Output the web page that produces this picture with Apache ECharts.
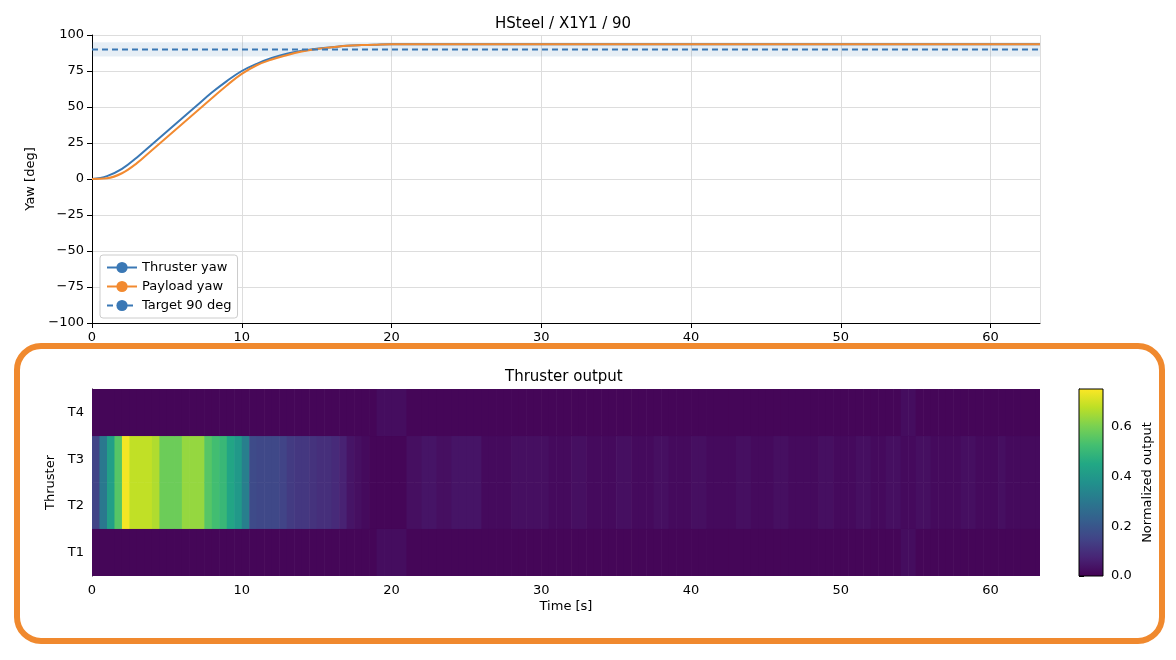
<!DOCTYPE html>
<html><head><meta charset="utf-8">
<script src="https://cdn.jsdelivr.net/npm/echarts@6/dist/echarts.min.js"></script>
<style>html,body{margin:0;background:#fff}#c{width:1176px;height:660px}</style>
</head><body><div id="c"></div>
<script>
const timeT = [0,1,2,3,4,5,6,7,8,9,10,11,12,13,14,15,16,17,18,19,20,25,30,40,50,63.3];
const thrusterYaw = [0,2,7,15,24,33,42,51,60,68,75,80,84,87,89,90.5,91.5,92.5,93,93.3,93.5,93.5,93.5,93.5,93.5,93.5];
const payloadYaw = [0,0.5,4,11,20,29,38,47,56,65,73,79,83,86,88.5,90.3,91.5,92.5,93,93.3,93.5,93.5,93.5,93.5,93.5,93.5];
const targetDeg = 90;
const thrusters = ['T1','T2','T3','T4'];
const binWidth = 0.5;
// T2 / T3 output per 0.5 s bin
const midOut = [
0.15,0.3,0.42,0.55,0.74,0.68,0.68,0.68,0.66,0.58,0.58,0.58,0.63,0.63,0.63,0.55,0.52,0.5,0.44,0.4,
0.32,0.17,0.16,0.16,0.16,0.15,0.13,0.12,0.12,0.11,0.1,0.1,0.09,0.07,0.04,0.03,0.02,0.01,0.01,0.01,
0.01,0.01,0.03,0.03,0.04,0.04,0.03,0.03,0.04,0.04,0.04,0.04,0.02,0.02,0.02,0.02,0.03,0.03,0.03,0.03,
0.03,0.02,0.02,0.02,0.03,0.03,0.02,0.02,0.02,0.02,0.03,0.03,0.02,0.02,0.02,0.03,0.03,0.02,0.02,0.02,
0.03,0.03,0.02,0.02,0.02,0.02,0.03,0.03,0.02,0.02,0.02,0.03,0.03,0.02,0.02,0.02,0.02,0.03,0.03,0.02,
0.02,0.02,0.03,0.03,0.02,0.02,0.03,0.03,0.02,0.02,0.03,0.03,0.02,0.02,0.02,0.02,0.03,0.03,0.02,0.02,
0.02,0.03,0.02,0.02,0.02,0.02,0.02];
// T1 / T4 output per 0.5 s bin (near zero except small blips)
const outerOut = midOut.map((_, i) => (i >= 38 && i < 42) || (i >= 108 && i < 110) ? 0.025 : 0.01);
const vmax = 0.75;
const xMax = 63.3;

const viridis = ['#440154','#482475','#414487','#355f8d','#2a788e','#21918c','#22a884','#44bf70','#7ad151','#bddf26','#fde725'];
const heat = [];
midOut.forEach((v,i)=>{ heat.push([i*binWidth,1,v]); heat.push([i*binWidth,2,v]); });
outerOut.forEach((v,i)=>{ heat.push([i*binWidth,0,v]); heat.push([i*binWidth,3,v]); });

const font = 'DejaVu Sans';
const ax = {color:'#000',fontFamily:font,fontSize:13};
const chart = echarts.init(document.getElementById('c'));
chart.setOption({
  animation:false,
  textStyle:{fontFamily:font},
  title:[
    {text:'HSteel / X1Y1 / 90',top:12,textStyle:{fontSize:15,fontWeight:'normal',color:'#000'},left:490},
    {text:'Thruster output',left:500,top:365,textStyle:{fontSize:15,fontWeight:'normal',color:'#000'}}
  ],
  graphic:[{type:'rect',shape:{x:17,y:346,width:1145,height:295,r:24},style:{fill:'none',stroke:'#f0892e',lineWidth:6},z:100}],
  legend:{orient:'vertical',left:100,top:255,itemWidth:30,itemGap:6,padding:[6,6,6,6],
    backgroundColor:'#fff',borderColor:'#ccc',borderWidth:1,borderRadius:3,
    textStyle:{fontSize:13,color:'#000'},data:['Thruster yaw','Payload yaw','Target 90 deg']},
  grid:[
    {left:92,right:136,top:35,height:288},
    {left:92,right:136,top:389,height:187},
    {left:1079,width:24,top:389,height:187}
  ],
  xAxis:[
    {gridIndex:0,type:'value',min:0,max:xMax,interval:10,axisLine:{onZero:false,lineStyle:{color:'#000'}},axisTick:{lineStyle:{color:'#000'}},
     axisLabel:{...ax,showMaxLabel:false},splitLine:{show:true,lineStyle:{color:'#ddd'}}},
    {gridIndex:1,type:'value',min:0,max:xMax,interval:10,name:'Time [s]',nameLocation:'middle',nameGap:24,nameTextStyle:ax,
     axisLine:{lineStyle:{color:'#000'}},axisTick:{lineStyle:{color:'#000'}},axisLabel:{...ax,showMaxLabel:false},splitLine:{show:false}},
    {gridIndex:2,type:'value',min:0,max:1,show:false}
  ],
  yAxis:[
    {gridIndex:0,type:'value',min:-100,max:100,interval:25,name:'Yaw [deg]',nameLocation:'middle',nameGap:52,nameTextStyle:ax,
     axisLine:{show:true,lineStyle:{color:'#000'}},axisTick:{show:true,lineStyle:{color:'#000'}},
     axisLabel:{...ax,formatter:v=>v<0?'\u2212'+(-v):v},splitLine:{lineStyle:{color:'#ddd'}}},
    {gridIndex:1,type:'category',data:thrusters,name:'Thruster',nameLocation:'middle',nameGap:30,nameTextStyle:ax,
     axisLine:{lineStyle:{color:'#000'}},axisTick:{alignWithLabel:true,lineStyle:{color:'#000'}},axisLabel:ax,splitLine:{show:false}},
    {gridIndex:2,type:'value',min:0,max:vmax,interval:0.2,position:'right',name:'Normalized output',nameLocation:'middle',nameGap:38,nameRotate:90,nameTextStyle:ax,
     axisLine:{show:true,lineStyle:{color:'#000'}},axisTick:{show:true,lineStyle:{color:'#000'}},
     axisLabel:{...ax,showMaxLabel:false,formatter:v=>v>0.7?'':v.toFixed(1)},splitLine:{show:false}}
  ],
  visualMap:{show:false,seriesIndex:3,min:0,max:vmax,dimension:2,inRange:{color:viridis}},
  series:[
    {name:'Thruster yaw',type:'line',symbol:'none',xAxisIndex:0,yAxisIndex:0,data:timeT.map((t,i)=>[t,thrusterYaw[i]]),smooth:0.4,lineStyle:{color:'#3a78b5',width:2},itemStyle:{color:'#3a78b5'}},
    {name:'Payload yaw',type:'line',symbol:'none',xAxisIndex:0,yAxisIndex:0,data:timeT.map((t,i)=>[t,payloadYaw[i]]),smooth:0.4,lineStyle:{color:'#f28a30',width:2},itemStyle:{color:'#f28a30'}},
    {name:'Target 90 deg',type:'line',symbol:'none',xAxisIndex:0,yAxisIndex:0,data:[[0,targetDeg],[xMax,targetDeg]],
     lineStyle:{color:'#3a78b5',width:2,type:[6,4]},itemStyle:{color:'#3a78b5'},
     markArea:{silent:true,itemStyle:{color:'rgba(58,120,181,0.13)'},data:[[{yAxis:targetDeg-5},{yAxis:targetDeg+5}]]}},
    {type:'custom',xAxisIndex:1,yAxisIndex:1,data:heat,encode:{x:0,y:1},clip:true,
     renderItem:(p,api)=>{const a=api.coord([api.value(0),api.value(1)]);const b=api.coord([Math.min(api.value(0)+binWidth,xMax),api.value(1)]);const h=api.size([0,1])[1];
       return {type:'rect',shape:{x:a[0],y:a[1]-h/2-0.3,width:b[0]-a[0]+0.6,height:h+0.6},style:{fill:api.visual('color')}};}},
    {type:'custom',xAxisIndex:2,yAxisIndex:2,data:[[0,vmax]],
     renderItem:(p,api)=>{const a=api.coord([0,vmax]);const b=api.coord([1,0]);
       return {type:'rect',shape:{x:a[0],y:a[1],width:b[0]-a[0],height:b[1]-a[1]},
         style:{stroke:'#000',lineWidth:1,fill:new echarts.graphic.LinearGradient(0,1,0,0,viridis.map((c,i)=>({offset:i/(viridis.length-1),color:c})))}};}}
  ]
});
</script></body></html>
